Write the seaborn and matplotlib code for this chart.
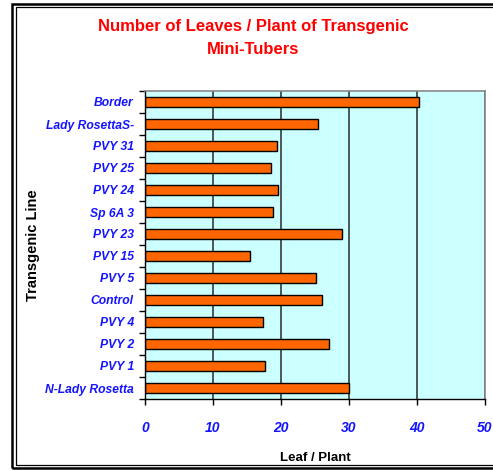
import matplotlib
matplotlib.use('Agg')
import matplotlib.pyplot as plt
import seaborn as sns
import pandas as pd
from matplotlib.patches import Rectangle
from matplotlib.ticker import FixedLocator

lines = ["Border", "Lady RosettaS-", "PVY 31", "PVY 25", "PVY 24", "Sp 6A 3",
         "PVY 23", "PVY 15", "PVY 5", "Control", "PVY 4", "PVY 2", "PVY 1",
         "N-Lady Rosetta"]
leaves = [40.3, 25.4, 19.4, 18.5, 19.6, 18.8, 28.9, 15.4, 25.1, 26.1, 17.3,
          27.1, 17.7, 30.0]
xticks = [0, 10, 20, 30, 40, 50]

sns.set_style('white')
plt.rcParams['font.family'] = ['Liberation Sans', 'DejaVu Sans']

W, H = 493, 470
fig = plt.figure(figsize=(W / 100, H / 100), dpi=100)
ax = fig.add_axes([145 / W, 1 - 399 / H, 340 / W, 308 / H])

df = pd.DataFrame({'line': lines, 'leaf': leaves})
sns.barplot(data=df, x='leaf', y='line', order=lines, color='#FF6600',
            edgecolor='black', linewidth=1.0, width=0.43, saturation=1,
            ax=ax)

ax.set_facecolor('#CCFFFF')
ax.set_xlim(0, 50)
ax.set_ylim(len(lines) - 0.5, -0.5)
ax.set_axisbelow(True)
ax.set_xticks(xticks)
ax.xaxis.grid(True, color='#2a2a2a', linewidth=1.1)
ax.yaxis.grid(False)

for s in ['top', 'right']:
    ax.spines[s].set_color('#888888')
    ax.spines[s].set_linewidth(1.2)
for s in ['left', 'bottom']:
    ax.spines[s].set_color('black')
    ax.spines[s].set_linewidth(1.0)

ax.tick_params(axis='x', direction='out', length=4, width=1, color='black',
               pad=12, labelsize=10, labelcolor='#1414FF', bottom=True)
ax.tick_params(axis='y', which='major', length=0, pad=8, labelsize=8.7,
               labelcolor='#1414FF', left=True)
ax.yaxis.set_minor_locator(FixedLocator([i - 0.5 for i in range(len(lines) + 1)]))
ax.tick_params(axis='y', which='minor', direction='out', length=4, width=1,
               color='black', left=True)

for t in ax.get_xticklabels() + ax.get_yticklabels():
    t.set_fontweight('bold')
    t.set_fontstyle('italic')

ax.set_xlabel('Leaf / Plant', fontsize=9.5, fontweight='bold', color='black',
              labelpad=12)
ax.set_ylabel('Transgenic Line', fontsize=10.5, fontweight='bold',
              color='black')
ax.yaxis.set_label_coords(-0.31, 0.5)

fig.text(253 / W, 1 - 38 / H,
         'Number of Leaves / Plant of Transgenic\nMini-Tubers',
         ha='center', va='center', color='#FF0000', fontsize=12,
         fontweight='bold', linespacing=1.75)

# double frame around the figure
fig.add_artist(Rectangle((11.5 / W, 2 / H), (W + 5) / W, (H - 6) / H,
                         transform=fig.transFigure, fill=False,
                         edgecolor='black', linewidth=1.8))
fig.add_artist(Rectangle((15.5 / W, 5 / H), (W + 5) / W, (H - 12) / H,
                         transform=fig.transFigure, fill=False,
                         edgecolor='black', linewidth=0.9))

fig.savefig('out.png', dpi=100)
